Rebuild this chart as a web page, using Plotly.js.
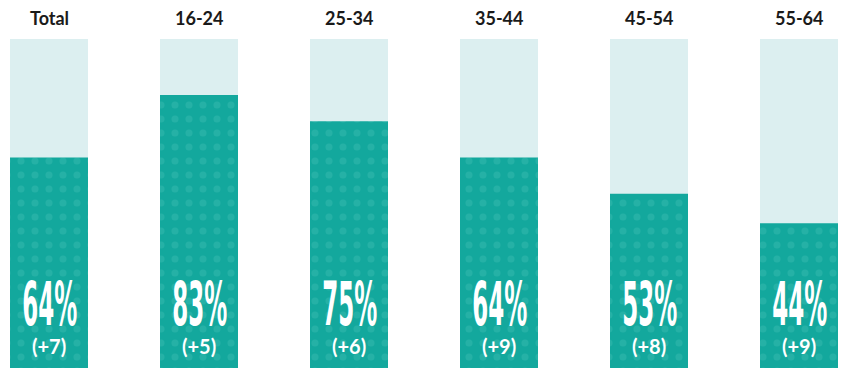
<!DOCTYPE html>
<html><head><meta charset="utf-8">
<script src="https://cdn.plot.ly/plotly-3.0.1.min.js"></script>
<style>html,body{margin:0;padding:0;background:#fff}#chart{width:850px;height:381px}</style>
</head><body><div id="chart"></div>
<script>
const categories = ["Total", "16-24", "25-34", "35-44", "45-54", "55-64"];
const values = [64, 83, 75, 64, 53, 44];
const changes = [7, 5, 6, 9, 8, 9];
const fullScale = categories.map(() => 100);

const TEAL = "#13A89D", DOT = "#25B1A6", LIGHT = "#DCEFF0";

const traces = [
  {type: "bar", x: categories, y: fullScale, marker: {color: LIGHT, line: {width: 0}}, hoverinfo: "skip"},
  {type: "bar", x: categories, y: values,
   marker: {color: TEAL, line: {width: 0},
     pattern: {shape: ".", bgcolor: TEAL, fgcolor: DOT, size: 14, solidity: 0.2, fillmode: "replace"}},
   hoverinfo: "skip"}
];

const annotations = [];
categories.forEach((c, i) => {
  annotations.push({x: c, y: 106.3, text: "<b>" + c + "</b>", showarrow: false,
    font: {family: "Lato, 'Open Sans', sans-serif", size: 18, color: "#1a1a1a"}});
  annotations.push({x: c, y: 19.6, text: values[i] + "%", showarrow: false,
    font: {family: "'Liberation Sans Narrow', 'DejaVu Sans Condensed', 'Liberation Sans', sans-serif", size: 61, color: "#ffffff", weight: 700}});
  annotations.push({x: c, y: 6.6, text: "<b>(+" + changes[i] + ")</b>", showarrow: false,
    font: {family: "Lato, 'Open Sans', sans-serif", size: 20, color: "#ffffff"}});
});

const layout = {
  width: 850, height: 381,
  margin: {l: 0, r: 0, t: 0, b: 0},
  paper_bgcolor: "#ffffff", plot_bgcolor: "#ffffff",
  barmode: "overlay", bargap: 0.48,
  showlegend: false,
  xaxis: {range: [-0.3267, 5.34], showgrid: false, zeroline: false, showticklabels: false, ticks: "", fixedrange: true},
  yaxis: {range: [-3.95, 111.85], showgrid: false, zeroline: false, showticklabels: false, ticks: "", fixedrange: true},
  annotations: annotations
};

function squeeze() {
  const texts = Array.from(document.querySelectorAll("#chart text")).filter(t => t.textContent.indexOf("%") >= 0);
  if (!texts.length) return;
  texts.forEach(t => t.removeAttribute("transform"));
  const ref = texts[0].getBBox().width || 1;
  const s = 55 / ref;
  texts.forEach(t => {
    const bb = t.getBBox();
    const cx = bb.x + bb.width / 2;
    t.setAttribute("transform", "translate(" + (cx * (1 - s)) + ",0) scale(" + s + ",1)");
  });
}

const p = Plotly.newPlot("chart", traces, layout, {staticPlot: true});
squeeze();
if (p && p.then) p.then(squeeze);
</script>
</body></html>
